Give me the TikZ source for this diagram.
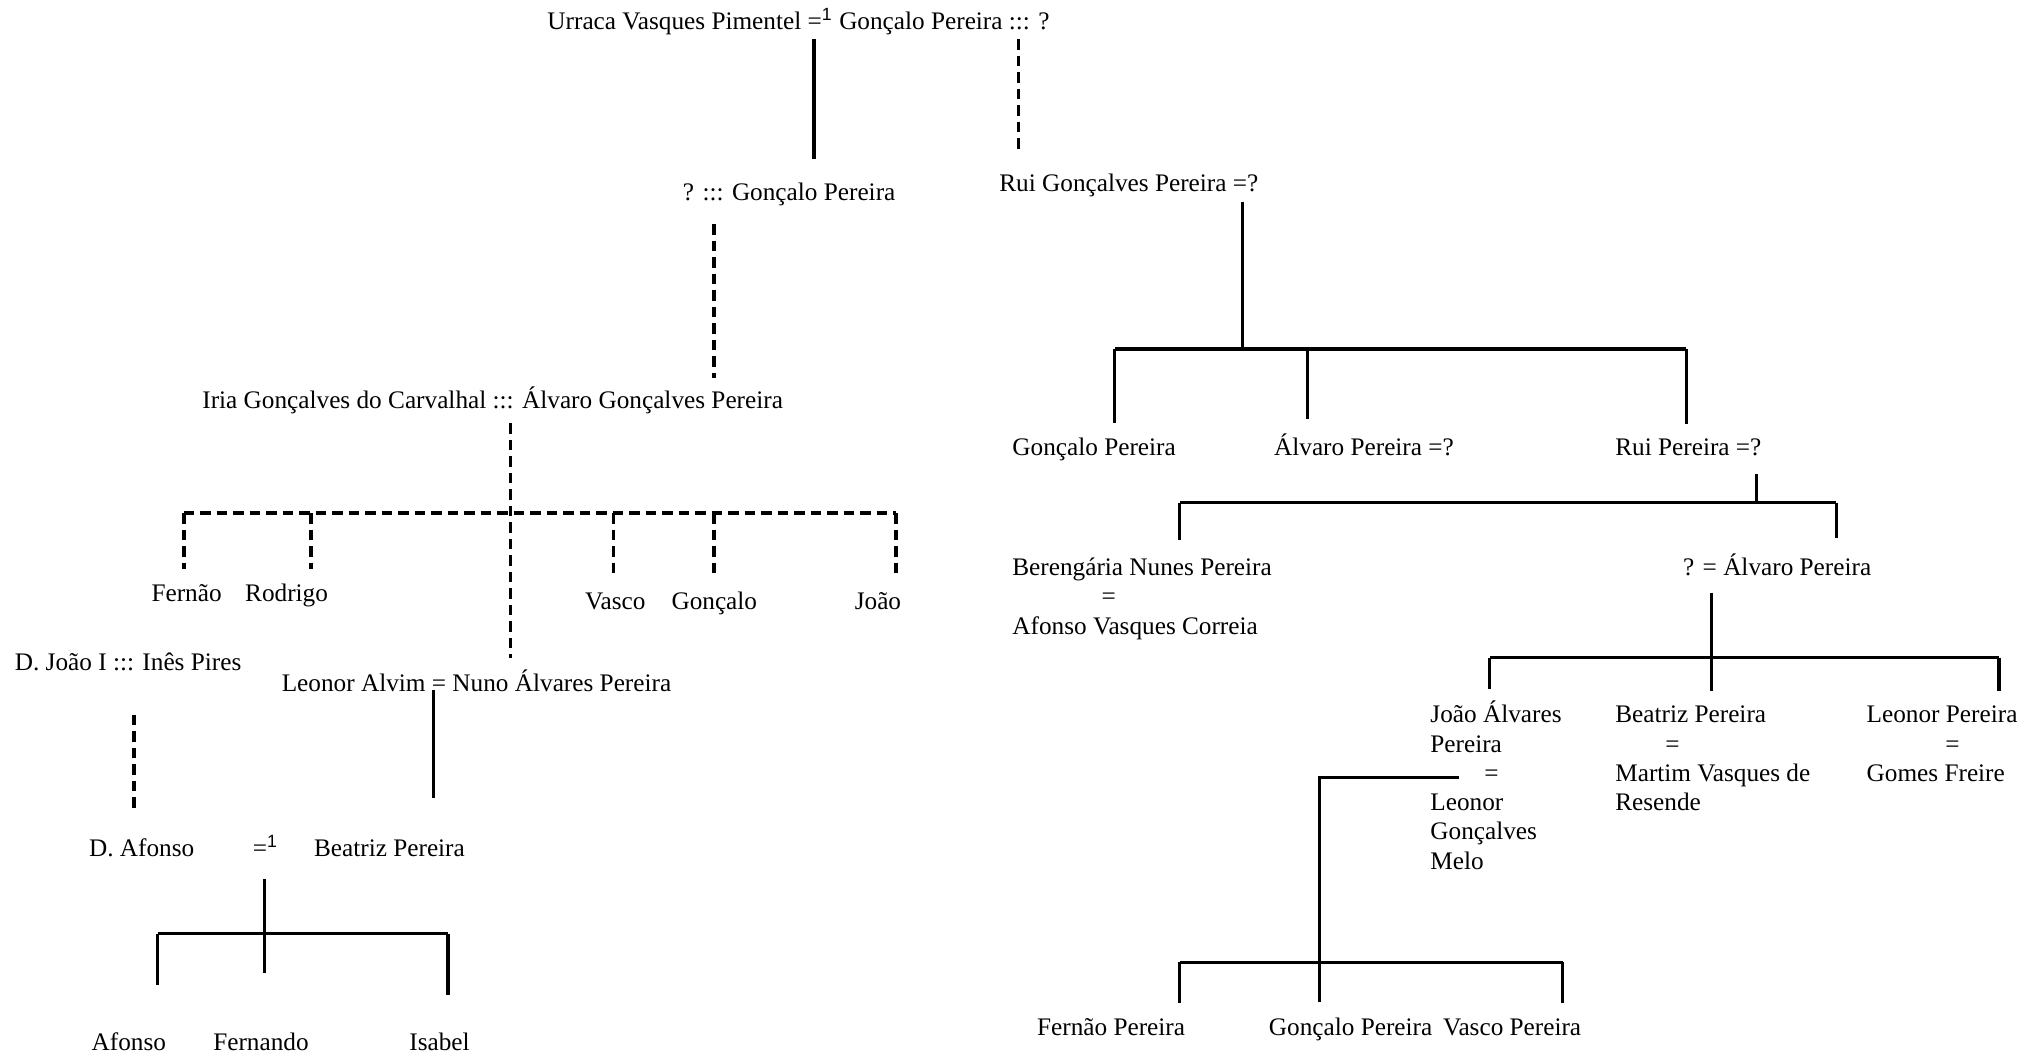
\documentclass[tikz,border=0pt]{standalone}
\usepackage{fontspec}
\setmainfont{Liberation Serif}
\newfontfamily\supfont{Liberation Sans}
\usetikzlibrary{positioning}

\tikzset{
    person/.style={anchor=base west, inner sep=0pt, font=\fontsize{10.1}{11.7}\selectfont},
    kin/.style={line width=1.25pt},
    kinq/.style={line width=1.5pt, dash pattern=on 4.2pt off 2.4pt},
}
\newcommand{\famlines}[1]{\begin{tabular}[t]{@{}l@{}}#1\end{tabular}}
\newcommand{\wedone}{=\textsuperscript{\supfont 1}}

\begin{document}
\begin{tikzpicture}[x=0.52087pt, y=-0.52087pt]
    \useasboundingbox (0,0) rectangle (1568,813);

    \node [person] (urraca) at (420,23) {Urraca Vasques Pimentel \wedone{} Gonçalo Pereira ::: ?};
    \node [person] (gpereira) at (524,154) {? ::: Gonçalo Pereira};
    \node [person] (ruigp) at (767,147) {Rui Gonçalves Pereira =?};
    \coordinate (u1) at (625,30);
    \coordinate (u2) at (625,122);
    \coordinate (u3) at (782,30);
    \coordinate (u4) at (782,115);
    \draw [kin] (u1) -- (u2);
    \draw [kinq] (u3) -- (u4);

    % left branch
    \node [person] (iria) at (155,314) {Iria Gonçalves do Carvalhal ::: Álvaro Gonçalves Pereira};
    \coordinate (g1) at (548,172);
    \coordinate (g2) at (548,290);
    \draw [kinq] (g1) -- (g2);

    \node [person] (fernao) at (116,462) {Fernão};
    \node [person, base right=9pt of fernao] (rodrigo) {Rodrigo};
    \node [person] (vasco) at (449,468) {Vasco};
    \node [person, base right=10pt of vasco] (goncalo) {Gonçalo};
    \node [person] (joao) at (656,468) {João};
    \coordinate (i1) at (392,325);
    \coordinate (i2) at (392,505);
    \coordinate (ib1) at (141,394);
    \coordinate (ib2) at (239,394);
    \coordinate (ib4) at (471,394);
    \coordinate (ib5) at (548,394);
    \coordinate (ib6) at (688,394);
    \draw [kinq] (i1) -- (i2);
    \draw [kinq] (ib1) -- (ib6);
    \foreach \b/\c in {ib1/fernao, ib2/rodrigo, ib4/vasco, ib5/goncalo, ib6/joao}
        \draw [kinq] (\b) -- ([yshift=6pt]\b |- \c.north);

    \node [person] (djoao) at (11,515) {D. João I ::: Inês Pires};
    \node [person] (leonor) at (216,531) {Leonor Alvim = Nuno Álvares Pereira};
    \coordinate (d1) at (103,549);
    \coordinate (d2) at (103,624);
    \coordinate (l1) at (333,530);
    \coordinate (l2) at (333,613);
    \draw [kinq] (d1) -- (d2);
    \draw [kin] (l1) -- (l2);

    \node [person] (dafonso) at (68,658) {D. Afonso};
    \node [person, base right=23pt of dafonso] (wed) {\wedone};
    \node [person, base right=14pt of wed] (beatriz) {Beatriz Pereira};
    \node [person] (afonso) at (70,807) {Afonso};
    \node [person, base right=18.5pt of afonso] (fernando) {Fernando};
    \node [person] (isabel) at (314,807) {Isabel};
    \coordinate (w1) at (203,675);
    \coordinate (wb1) at (121,717);
    \coordinate (wb2) at (203,717);
    \coordinate (wb3) at (344,717);
    \draw [kin] (w1) -- (wb2);
    \draw [kin] (wb1) -- (wb3);
    \foreach \b/\c/\d in {wb1/afonso/19pt, wb2/fernando/24pt, wb3/isabel/15pt}
        \draw [kin] (\b) -- ([yshift=\d]\b |- \c.north);

    % right branch
    \node [person] (goncalop1) at (777,350) {Gonçalo Pereira};
    \node [person] (alvarop) at (978,350) {Álvaro Pereira =?};
    \node [person] (ruip) at (1240,350) {Rui Pereira =?};
    \coordinate (r1) at (954,155);
    \coordinate (rb1) at (856,268);
    \coordinate (rb0) at (954,268);
    \coordinate (rb2) at (1004,268);
    \coordinate (rb3) at (1295,268);
    \draw [kin] (r1) -- (rb0);
    \draw [kin] (rb1) -- (rb3);
    \foreach \b/\c in {rb1/goncalop1, rb2/alvarop, rb3/ruip}
        \draw [kin] (\b) -- ([yshift=6pt]\b |- \c.north);

    \node [person] (berengaria) at (777,442) {\famlines{Berengária Nunes Pereira\\\hspace*{35.7pt}=\\Afonso Vasques Correia}};
    \node [person] (alvarop2) at (1292,442) {? = Álvaro Pereira};
    \coordinate (p1) at (1349,364);
    \coordinate (pb0) at (1349,386);
    \coordinate (pb1) at (906,386);
    \coordinate (pb2) at (1410,386);
    \draw [kin] (p1) -- (pb0);
    \draw [kin] (pb1) -- (pb2);
    \foreach \b/\c in {pb1/berengaria, pb2/alvarop2}
        \draw [kin] (\b) -- ([yshift=6pt]\b |- \c.north);

    \node [person] (joaoalv) at (1098,555) {\famlines{João Álvares\\Pereira\\\hspace*{21.6pt}=\\Leonor\\Gonçalves\\Melo}};
    \node [person] (beatrizp) at (1240,555) {\famlines{Beatriz Pereira\\\hspace*{20pt}=\\Martim Vasques de\\Resende}};
    \node [person] (leonorp) at (1433,555) {\famlines{Leonor Pereira\\\hspace*{31.5pt}=\\Gomes Freire}};
    \coordinate (a1) at (1314,455);
    \coordinate (ab1) at (1144,505);
    \coordinate (ab2) at (1314,505);
    \coordinate (ab3) at (1535,505);
    \draw [kin] (a1) -- (ab2);
    \draw [kin] (ab1) -- (ab3);
    \foreach \b/\c in {ab1/joaoalv, ab2/beatrizp, ab3/leonorp}
        \draw [kin] (\b) -- ([yshift=4.5pt]\b |- \c.north);

    \node [person] (fernaop) at (796,795) {Fernão Pereira};
    \node [person] (goncalop) at (974,795) {Gonçalo Pereira};
    \node [person, base right=3.9pt of goncalop] (vascop) {Vasco Pereira};
    \coordinate (j1) at (1120,597);
    \coordinate (jb1) at (906,739);
    \coordinate (jb2) at (1013,739);
    \coordinate (jb3) at (1200,739);
    \draw [kin] (j1) -| (jb2);
    \draw [kin] (jb1) -- (jb3);
    \foreach \b/\c in {jb1/fernaop, jb2/goncalop, jb3/vascop}
        \draw [kin] (\b) -- ([yshift=6pt]\b |- \c.north);
\end{tikzpicture}
\end{document}
